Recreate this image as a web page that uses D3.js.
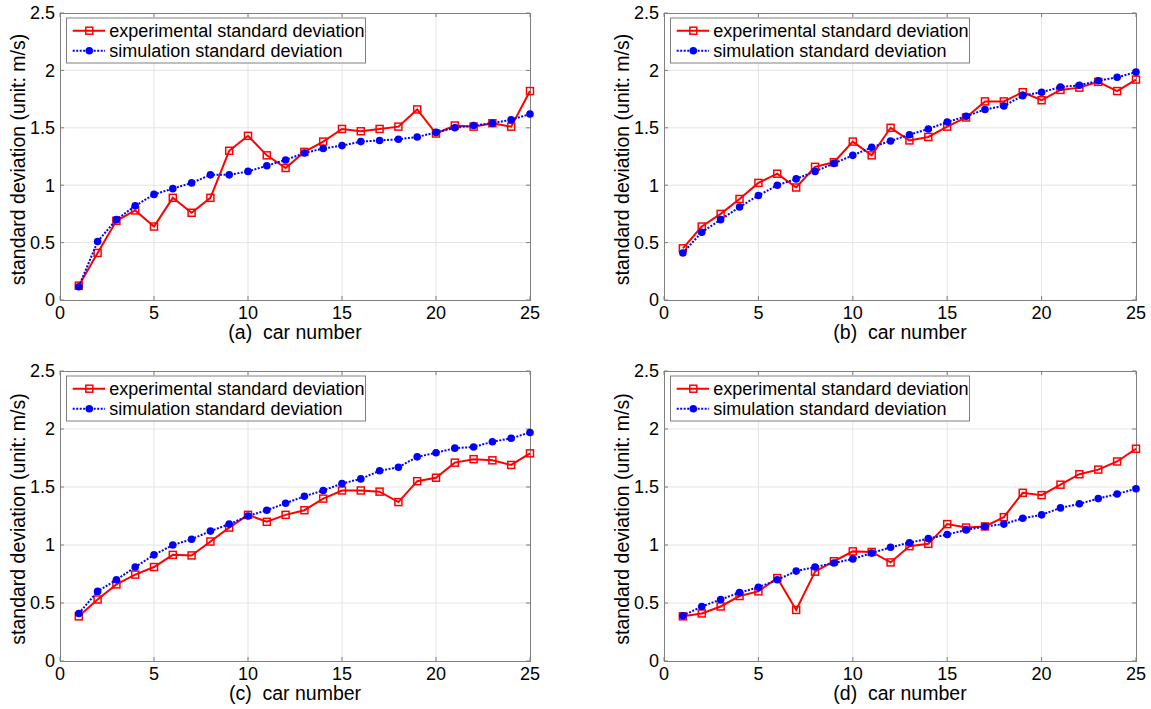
<!DOCTYPE html>
<html>
<head>
<meta charset="utf-8">
<script src="https://cdn.jsdelivr.net/npm/d3@7"></script>
<style>
  body { margin: 0; background: #fff; }
  svg text { font-family: "Liberation Sans", Arial, sans-serif; fill: #000; }
</style>
</head>
<body>
<svg id="chart" width="1151" height="709"></svg>
<script>
const carNumbers = [1, 2, 3, 4, 5, 6, 7, 8, 9, 10, 11, 12, 13, 14, 15, 16, 17, 18, 19, 20, 21, 22, 23, 24, 25];

// (a)
const expA = [0.125, 0.41, 0.69, 0.78, 0.64, 0.89, 0.76, 0.89, 1.30, 1.43, 1.26, 1.15, 1.29, 1.38, 1.49, 1.47, 1.49, 1.51, 1.66, 1.45, 1.52, 1.51, 1.54, 1.51, 1.82];
const simA = [0.116, 0.51, 0.70, 0.82, 0.92, 0.97, 1.02, 1.09, 1.09, 1.12, 1.17, 1.22, 1.28, 1.32, 1.345, 1.38, 1.39, 1.40, 1.42, 1.46, 1.50, 1.52, 1.54, 1.57, 1.62];
// (b)
const expB = [0.45, 0.64, 0.75, 0.88, 1.02, 1.10, 0.98, 1.16, 1.20, 1.38, 1.26, 1.50, 1.39, 1.42, 1.51, 1.59, 1.73, 1.73, 1.81, 1.74, 1.83, 1.85, 1.90, 1.82, 1.92];
const simB = [0.41, 0.59, 0.70, 0.81, 0.91, 1.00, 1.055, 1.12, 1.19, 1.26, 1.33, 1.385, 1.44, 1.49, 1.55, 1.60, 1.66, 1.69, 1.78, 1.81, 1.855, 1.87, 1.91, 1.94, 1.985];
// (c)
const expC = [0.385, 0.53, 0.66, 0.745, 0.81, 0.915, 0.91, 1.03, 1.15, 1.26, 1.20, 1.26, 1.30, 1.40, 1.47, 1.47, 1.46, 1.37, 1.55, 1.58, 1.71, 1.74, 1.73, 1.69, 1.79];
const simC = [0.41, 0.60, 0.70, 0.81, 0.915, 1.00, 1.05, 1.12, 1.18, 1.25, 1.30, 1.36, 1.42, 1.47, 1.53, 1.57, 1.64, 1.67, 1.76, 1.795, 1.835, 1.845, 1.89, 1.92, 1.97];
// (d)
const expD = [0.385, 0.41, 0.47, 0.56, 0.60, 0.715, 0.44, 0.77, 0.86, 0.945, 0.94, 0.85, 0.99, 1.01, 1.18, 1.15, 1.16, 1.24, 1.45, 1.43, 1.52, 1.61, 1.65, 1.72, 1.83];
const simD = [0.39, 0.47, 0.53, 0.59, 0.635, 0.70, 0.775, 0.81, 0.845, 0.88, 0.93, 0.98, 1.02, 1.055, 1.09, 1.13, 1.16, 1.18, 1.23, 1.26, 1.32, 1.355, 1.40, 1.44, 1.485];

const xTicks = [0, 5, 10, 15, 20, 25];
const yTicks = [0, 0.5, 1, 1.5, 2, 2.5];
const yTickLabels = ['0', '0.5', '1', '1.5', '2', '2.5'];
const panelLabels = ['(a)', '(b)', '(c)', '(d)'];
const legendLabels = ['experimental standard deviation', 'simulation standard deviation'];
const yLabel = 'standard deviation (unit: m/s)';
const xLabel = 'car number';

const expSeries = [expA, expB, expC, expD];
const simSeries = [simA, simB, simC, simD];

const svg = d3.select('#chart');

// plot boxes of the four subplots
const boxes = [
  { x0: 60, x1: 530, y0: 13, y1: 300 },
  { x0: 664, x1: 1136, y0: 13, y1: 300 },
  { x0: 60, x1: 530, y0: 371, y1: 661 },
  { x0: 664, x1: 1136, y0: 371, y1: 661 },
];

const RED = '#ff0000';
const BLUE = '#0000ff';

function drawPanel(idx) {
  const b = boxes[idx];
  const x = d3.scaleLinear().domain([0, 25]).range([b.x0, b.x1]);
  const y = d3.scaleLinear().domain([0, 2.5]).range([b.y1, b.y0]);
  const g = svg.append('g').attr('class', `panel-${idx}`);

  // background
  g.append('rect')
    .attr('x', b.x0).attr('y', b.y0)
    .attr('width', b.x1 - b.x0).attr('height', b.y1 - b.y0)
    .attr('fill', '#fff');

  // grid
  g.selectAll('.vgrid')
    .data(xTicks.slice(1, -1))
    .join('line')
    .attr('x1', (d) => x(d)).attr('x2', (d) => x(d))
    .attr('y1', b.y0).attr('y2', b.y1)
    .attr('stroke', '#e4e4e4').attr('stroke-width', 1);

  g.selectAll('.hgrid')
    .data(yTicks.slice(1, -1))
    .join('line')
    .attr('x1', b.x0).attr('x2', b.x1)
    .attr('y1', (d) => y(d)).attr('y2', (d) => y(d))
    .attr('stroke', '#e4e4e4').attr('stroke-width', 1);

  // inward ticks on all four sides
  const tickLen = 4;
  xTicks.forEach((t) => {
    g.append('line').attr('x1', x(t)).attr('x2', x(t)).attr('y1', b.y1).attr('y2', b.y1 - tickLen)
      .attr('stroke', '#808080');
    g.append('line').attr('x1', x(t)).attr('x2', x(t)).attr('y1', b.y0).attr('y2', b.y0 + tickLen)
      .attr('stroke', '#808080');
  });
  yTicks.forEach((t) => {
    g.append('line').attr('x1', b.x0).attr('x2', b.x0 + tickLen).attr('y1', y(t)).attr('y2', y(t))
      .attr('stroke', '#808080');
    g.append('line').attr('x1', b.x1).attr('x2', b.x1 - tickLen).attr('y1', y(t)).attr('y2', y(t))
      .attr('stroke', '#808080');
  });

  // box
  g.append('rect')
    .attr('x', b.x0 + 0.5).attr('y', b.y0 + 0.5)
    .attr('width', b.x1 - b.x0).attr('height', b.y1 - b.y0)
    .attr('fill', 'none')
    .attr('stroke', '#808080').attr('stroke-width', 1);

  // tick labels
  g.selectAll('.xtl')
    .data(xTicks)
    .join('text')
    .attr('x', (d) => x(d))
    .attr('y', b.y1 + 19)
    .attr('text-anchor', 'middle')
    .attr('font-size', 18)
    .text((d) => d);

  g.selectAll('.ytl')
    .data(yTicks)
    .join('text')
    .attr('x', b.x0 - 5)
    .attr('y', (d) => y(d))
    .attr('dy', '0.35em')
    .attr('text-anchor', 'end')
    .attr('font-size', 18)
    .text((d, i) => yTickLabels[i]);

  // axis labels
  g.append('text')
    .attr('x', (b.x0 + b.x1) / 2)
    .attr('y', b.y1 + 39)
    .attr('text-anchor', 'middle')
    .attr('font-size', 19.5)
    .style('white-space', 'pre')
    .text(`${panelLabels[idx]}  ${xLabel}`);

  g.append('text')
    .attr('transform', `translate(${b.x0 - 35},${(b.y0 + b.y1) / 2 + 3}) rotate(-90)`)
    .attr('text-anchor', 'middle')
    .attr('font-size', 19.5)
    .text(yLabel);

  // series
  const line = d3.line().x((d, i) => x(carNumbers[i])).y((d) => y(d));

  g.append('path')
    .datum(expSeries[idx])
    .attr('d', line)
    .attr('fill', 'none')
    .attr('stroke', RED)
    .attr('stroke-width', 2);

  g.selectAll('.expMark')
    .data(expSeries[idx])
    .join('rect')
    .attr('x', (d, i) => x(carNumbers[i]) - 3.5)
    .attr('y', (d) => y(d) - 3.5)
    .attr('width', 7).attr('height', 7)
    .attr('fill', 'none')
    .attr('stroke', RED).attr('stroke-width', 1.5);

  g.append('path')
    .datum(simSeries[idx])
    .attr('d', line)
    .attr('fill', 'none')
    .attr('stroke', BLUE)
    .attr('stroke-width', 2)
    .attr('stroke-dasharray', '2,1.5');

  g.selectAll('.simMark')
    .data(simSeries[idx])
    .join('circle')
    .attr('cx', (d, i) => x(carNumbers[i]))
    .attr('cy', (d) => y(d))
    .attr('r', 3.8)
    .attr('fill', BLUE);

  // legend
  const lx = b.x0 + 6;
  const ly = b.y0 + 4.5;
  const leg = g.append('g').attr('class', 'legend');
  leg.append('rect')
    .attr('x', lx + 0.5).attr('y', ly + 0.5)
    .attr('width', 299).attr('height', 45)
    .attr('fill', '#fff')
    .attr('stroke', '#808080').attr('stroke-width', 1);

  legendLabels.forEach((label, i) => {
    const rowY = ly + 13.2 + i * 20;
    const lineX0 = lx + 6.7;
    const lineX1 = lx + 39;
    const mx = lx + 23.3;
    leg.append('line')
      .attr('x1', lineX0).attr('x2', lineX1)
      .attr('y1', rowY).attr('y2', rowY)
      .attr('stroke', i === 0 ? RED : BLUE)
      .attr('stroke-width', 2)
      .attr('stroke-dasharray', i === 0 ? null : '2,1.5');
    if (i === 0) {
      leg.append('rect')
        .attr('x', mx - 3.5).attr('y', rowY - 3.5)
        .attr('width', 7).attr('height', 7)
        .attr('fill', 'none')
        .attr('stroke', RED).attr('stroke-width', 1.5);
    } else {
      leg.append('circle')
        .attr('cx', mx).attr('cy', rowY)
        .attr('r', 3.8)
        .attr('fill', BLUE);
    }
    leg.append('text')
      .attr('x', lx + 43.3)
      .attr('y', rowY)
      .attr('dy', '0.35em')
      .attr('font-size', 18)
      .text(label);
  });
}

boxes.forEach((b, i) => drawPanel(i));
</script>
</body>
</html>
